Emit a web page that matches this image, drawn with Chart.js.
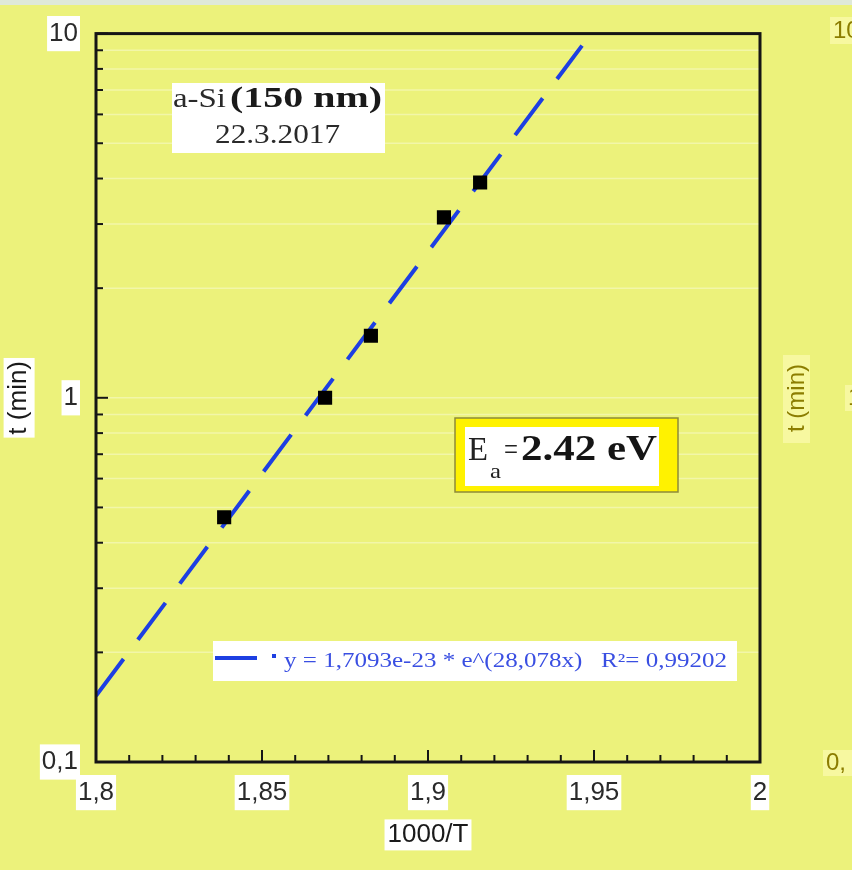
<!DOCTYPE html>
<html>
<head>
<meta charset="utf-8">
<script src="https://cdn.jsdelivr.net/npm/chart.js@4.4.0/dist/chart.umd.min.js"></script>
<style>
  html, body { margin: 0; padding: 0; background: #ecf27b; }
  #wrap { width: 852px; height: 870px; }
</style>
</head>
<body>
<div id="wrap"><canvas id="arrChart" width="852" height="870"></canvas></div>
<script>
// measured points: 1000/T vs time (min)
const xValues = [1.8386, 1.869, 1.8828, 1.9048, 1.9157];
const tValues = [0.47, 1.0, 1.48, 3.13, 3.9];

// exponential fit, ends
const fitX = [1.8, 1.9464];
const fitY = [0.152, 9.27];
const fitLabel = "y = 1,7093e-23 * e^(28,078x)   R\u00b2= 0,99202";

const xMajorTicks = [1.8, 1.85, 1.9, 1.95, 2];
const xTickLabels = ["1,8", "1,85", "1,9", "1,95", "2"];
const xMinorTicks = [1.81, 1.82, 1.83, 1.84, 1.86, 1.87, 1.88, 1.89, 1.91, 1.92, 1.93, 1.94, 1.96, 1.97, 1.98, 1.99];
const yMajorTicks = [0.1, 1, 10];
const yTickLabels = ["0,1", "1", "10"];
const yMinorTicks = [0.2, 0.3, 0.4, 0.5, 0.6, 0.7, 0.8, 0.9, 2, 3, 4, 5, 6, 7, 8, 9];

const BG = "#ecf27b";
const SANS = "'Liberation Sans', Arial, sans-serif";
const SERIF = "'Liberation Serif', 'Times New Roman', serif";
const BLUE = "#1d3fe2";

// draws text squeezed/stretched to a given width
function fitText(ctx, text, x, y, w, font, color) {
  ctx.save();
  ctx.font = font;
  ctx.fillStyle = color;
  ctx.textBaseline = "alphabetic";
  ctx.textAlign = "left";
  const m = ctx.measureText(text).width;
  ctx.translate(x, y);
  ctx.scale(w ? w / m : 1, 1);
  ctx.fillText(text, 0, 0);
  ctx.restore();
}

function seg(ctx, x1, y1, x2, y2) {
  ctx.beginPath();
  ctx.moveTo(x1, y1);
  ctx.lineTo(x2, y2);
  ctx.stroke();
}

const paperPlugin = {
  id: "paper",
  beforeDraw(chart) {
    const { ctx, width, height } = chart;
    const xs = chart.scales.x, ys = chart.scales.y;
    ctx.save();
    ctx.fillStyle = BG;
    ctx.fillRect(0, 0, width, height);
    ctx.fillStyle = "#dfe9d9";
    ctx.fillRect(0, 0, width, 5);

    // white boxes behind the axis titles
    ctx.font = "26px " + SANS;
    ctx.fillStyle = "#fff";
    const xw = ctx.measureText(xs.options.title.text).width;
    const xcx = (xs.left + xs.right) / 2, xcy = xs.bottom - 20 - 15.6;
    ctx.fillRect(xcx - xw / 2 - 3, xcy - 15, xw + 6, 31);
    const yw = ctx.measureText(ys.options.title.text).width;
    const ycx = ys.left + 3 + 15.6, ycy = (ys.top + ys.bottom) / 2;
    ctx.fillRect(ycx - 15, ycy - yw / 2 - 3, 31, yw + 6);
    ctx.restore();
  },
  beforeDatasetsDraw(chart) {
    const { ctx, chartArea } = chart;
    const ys = chart.scales.y;
    ctx.save();
    ctx.strokeStyle = "rgba(255,255,255,0.35)";
    ctx.lineWidth = 1.5;
    yMinorTicks.concat([1]).forEach((v) => {
      const py = ys.getPixelForValue(v);
      seg(ctx, chartArea.left, py, chartArea.right, py);
    });
    ctx.restore();
  },
  afterDatasetsDraw(chart) {
    const { ctx, chartArea } = chart;
    const { left, right, top, bottom } = chartArea;
    const xs = chart.scales.x, ys = chart.scales.y;
    ctx.save();
    ctx.strokeStyle = "#151515";
    ctx.lineWidth = 2;
    xMajorTicks.forEach((v) => {
      const px = xs.getPixelForValue(v);
      seg(ctx, px, bottom, px, bottom - 12);
    });
    xMinorTicks.forEach((v) => {
      const px = xs.getPixelForValue(v);
      seg(ctx, px, bottom, px, bottom - 7);
    });
    yMajorTicks.forEach((v) => {
      const py = ys.getPixelForValue(v);
      seg(ctx, left, py, left + 12, py);
    });
    yMinorTicks.forEach((v) => {
      const py = ys.getPixelForValue(v);
      seg(ctx, left, py, left + 7, py);
    });
    ctx.lineWidth = 3;
    ctx.strokeRect(left, top, right - left, bottom - top);
    ctx.restore();
  },
  afterDraw(chart) {
    const { ctx } = chart;
    ctx.save();

    // sample label box
    ctx.fillStyle = "#fff";
    ctx.fillRect(172, 83, 213, 70);
    fitText(ctx, "a-Si", 173, 107, 53, "27px " + SERIF, "#2a2a2a");
    fitText(ctx, "(150 nm)", 230, 107, 152, "bold 30px " + SERIF, "#1a1a1a");
    fitText(ctx, "22.3.2017", 215, 143, 125, "27px " + SERIF, "#2a2a2a");

    // activation energy box
    ctx.fillStyle = "#fff200";
    ctx.fillRect(455, 418, 223, 74);
    ctx.strokeStyle = "#8d8a3a";
    ctx.lineWidth = 1.5;
    ctx.strokeRect(455, 418, 223, 74);
    ctx.fillStyle = "#fff";
    ctx.fillRect(465, 427, 194, 59);
    fitText(ctx, "E", 468, 460, 20, "34px " + SERIF, "#222");
    fitText(ctx, "a", 490, 478, 11, "22px " + SERIF, "#222");
    fitText(ctx, "=", 504, 460, 14, "32px " + SERIF, "#222");
    fitText(ctx, "2.42 eV", 521, 460, 136, "bold 36px " + SERIF, "#151515");

    // fit legend
    const fit = chart.data.datasets[1];
    ctx.fillStyle = "#fff";
    ctx.fillRect(213, 641, 524, 40);
    ctx.strokeStyle = fit.borderColor;
    ctx.lineWidth = 4;
    seg(ctx, 215, 658, 257, 658);
    ctx.fillStyle = fit.borderColor;
    ctx.fillRect(272, 654, 4, 4);
    fitText(ctx, fit.label, 284, 667, 443, "20px " + SERIF, "#3a4fe2");

    // edge of the neighbouring chart
    const olive = "#8c7d00";
    const pale = "#f7f8a0";
    ctx.fillStyle = pale;
    ctx.fillRect(830, 17, 30, 27);
    ctx.fillRect(783, 355, 27, 88);
    ctx.fillRect(845, 385, 10, 26);
    ctx.fillRect(823, 750, 30, 26);
    ctx.font = "24px " + SANS;
    ctx.fillStyle = olive;
    ctx.textBaseline = "middle";
    ctx.fillText("10", 833, 31);
    ctx.fillText("1", 848, 398);
    ctx.fillText("0,", 826, 763);
    ctx.translate(797, 398);
    ctx.rotate(-Math.PI / 2);
    ctx.textAlign = "center";
    ctx.fillText("t (min)", 0, 0);
    ctx.restore();
  }
};

const ctx = document.getElementById("arrChart").getContext("2d");

new Chart(ctx, {
  type: "scatter",
  data: {
    datasets: [
      {
        label: "a-Si",
        data: xValues.map((x, i) => ({ x: x, y: tValues[i] })),
        pointStyle: "rect",
        pointRadius: 10,
        backgroundColor: "#000",
        borderWidth: 0,
        order: 0,
      },
      {
        label: fitLabel,
        data: fitX.map((x, i) => ({ x: x, y: fitY[i] })),
        showLine: true,
        pointRadius: 0,
        borderColor: BLUE,
        borderWidth: 4,
        borderDash: [46, 24],
        order: 1,
      },
    ],
  },
  options: {
    responsive: false,
    animation: false,
    layout: { padding: { top: 30, right: 92, left: 0, bottom: 0 } },
    plugins: {
      legend: { display: false },
      tooltip: { enabled: false },
    },
    scales: {
      x: {
        type: "linear",
        min: 1.8,
        max: 2,
        afterBuildTicks: (scale) => {
          scale.ticks = xMajorTicks.map((v) => ({ value: v }));
        },
        afterFit: (scale) => {
          scale.height = 108;
        },
        grid: { display: false, drawTicks: false },
        border: { display: false },
        ticks: {
          autoSkip: false,
          maxRotation: 0,
          padding: 15,
          color: "#2a2a2a",
          font: { family: SANS, size: 26 },
          showLabelBackdrop: true,
          backdropColor: "#fff",
          backdropPadding: 2,
          callback: (value, index) => xTickLabels[index],
        },
        title: {
          display: true,
          text: "1000/T",
          color: "#1a1a1a",
          font: { family: SANS, size: 26 },
          padding: { top: 4, bottom: 20 },
        },
      },
      y: {
        type: "logarithmic",
        min: 0.1,
        max: 10,
        afterBuildTicks: (scale) => {
          scale.ticks = yMajorTicks.map((v) => ({ value: v }));
        },
        afterFit: (scale) => {
          scale.width = 96;
        },
        grid: { display: false, drawTicks: false },
        border: { display: false },
        ticks: {
          autoSkip: false,
          padding: 18,
          color: "#2a2a2a",
          font: { family: SANS, size: 26 },
          showLabelBackdrop: true,
          backdropColor: "#fff",
          backdropPadding: 2,
          callback: (value, index) => yTickLabels[index],
        },
        title: {
          display: true,
          text: "t (min)",
          color: "#1a1a1a",
          font: { family: SANS, size: 26 },
          padding: { top: 3, bottom: 4 },
        },
      },
    },
  },
  plugins: [paperPlugin],
});
</script>
</body>
</html>
